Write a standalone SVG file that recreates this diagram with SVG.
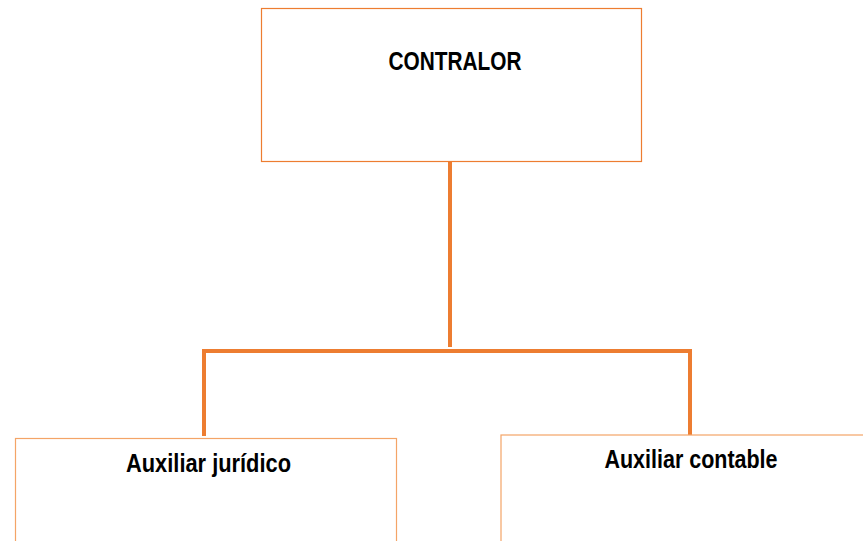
<svg xmlns="http://www.w3.org/2000/svg" width="863" height="541" viewBox="0 0 863 541">
<style>
.box{fill:#FFFFFF;stroke-width:1.2}
.top{stroke:#ED7D31}
.sub{stroke:#F4A467}
.lbl{font-family:"Liberation Sans",Arial,sans-serif;font-weight:bold;font-size:26px;fill:#000000;text-anchor:middle}
.conn{stroke:#ED7D31;stroke-width:4;fill:none}
</style>
<rect width="863" height="541" fill="#FFFFFF"/>
<g id="connectors">
<line class="conn" x1="450" y1="162" x2="450" y2="347"/>
<polyline class="conn" points="204,436 204,351 690,351 690,435"/>
</g>
<g id="contralor">
<rect class="box top" x="261.5" y="8.5" width="380" height="153"/>
<text class="lbl" x="455" y="69.5" textLength="133" lengthAdjust="spacingAndGlyphs">CONTRALOR</text>
</g>
<g id="auxiliar-juridico">
<rect class="box sub" x="15.5" y="438.5" width="381" height="120"/>
<text class="lbl" x="208.5" y="471.5" textLength="165" lengthAdjust="spacingAndGlyphs">Auxiliar jurídico</text>
</g>
<g id="auxiliar-contable">
<rect class="box sub" x="501" y="435" width="380" height="120"/>
<text class="lbl" x="691" y="468" textLength="173" lengthAdjust="spacingAndGlyphs">Auxiliar contable</text>
</g>
</svg>
